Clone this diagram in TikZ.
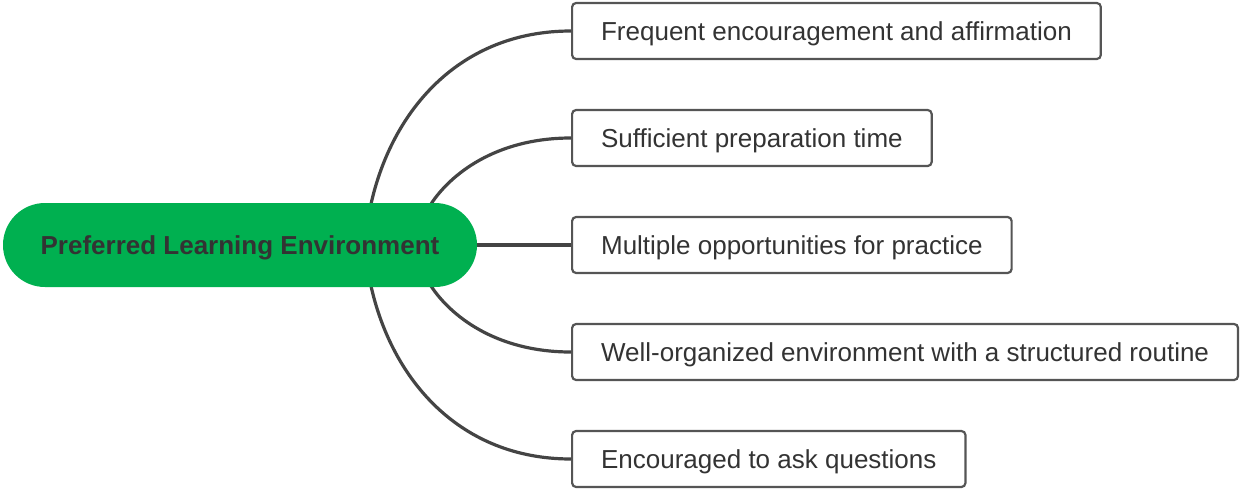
\documentclass[tikz,border=0pt]{standalone}
\usepackage{fontspec}
\setmainfont{Liberation Sans}
\definecolor{pillgreen}{RGB}{0,176,80}
\definecolor{txtgray}{RGB}{51,51,51}
\definecolor{linegray}{RGB}{68,68,68}
\definecolor{boxgray}{RGB}{85,85,85}
\begin{document}
\begin{tikzpicture}[x=1pt,y=-1pt,
  centerbox/.style={fill=pillgreen,rounded corners=42pt,minimum height=84pt,minimum width=474pt,inner sep=0pt,text height=18.7pt,text depth=0pt,text=txtgray,font=\fontsize{26}{31}\selectfont\bfseries},
  leafbox/.style={draw=boxgray,line width=2.2pt,rounded corners=4pt,fill=white,minimum height=56pt,inner xsep=29pt,inner ysep=0pt,text height=18.7pt,text depth=0pt,anchor=west,text=txtgray,font=\fontsize{26}{31}\selectfont},
  conn/.style={draw=linegray,line width=3.2pt}]
\useasboundingbox (0,0) rectangle (1240,488);
\coordinate (s1) at (371,204);
\coordinate (s2) at (431,204);
\coordinate (s4) at (431,286);
\coordinate (s5) at (371,286);
\node[leafbox] (b1) at (571,31) {Frequent encouragement and affirmation};
\node[leafbox] (b2) at (571,138) {Sufficient preparation time};
\node[leafbox] (b3) at (571,245) {Multiple opportunities for practice};
\node[leafbox] (b4) at (571,352) {Well-organized environment with a structured routine};
\node[leafbox] (b5) at (571,459) {Encouraged to ask questions};
\draw[conn] (s1) .. controls (392,110) and (460,31) .. (b1.west);
\draw[conn] (s2) .. controls (450,175) and (495,138) .. (b2.west);
\draw[conn] (s4) .. controls (450,315) and (495,352) .. (b4.west);
\draw[conn] (s5) .. controls (392,380) and (460,459) .. (b5.west);
\node[centerbox] (c) at (240,245) {Preferred Learning Environment};
\draw[conn] (c.east) -- (b3.west);
\end{tikzpicture}
\end{document}
